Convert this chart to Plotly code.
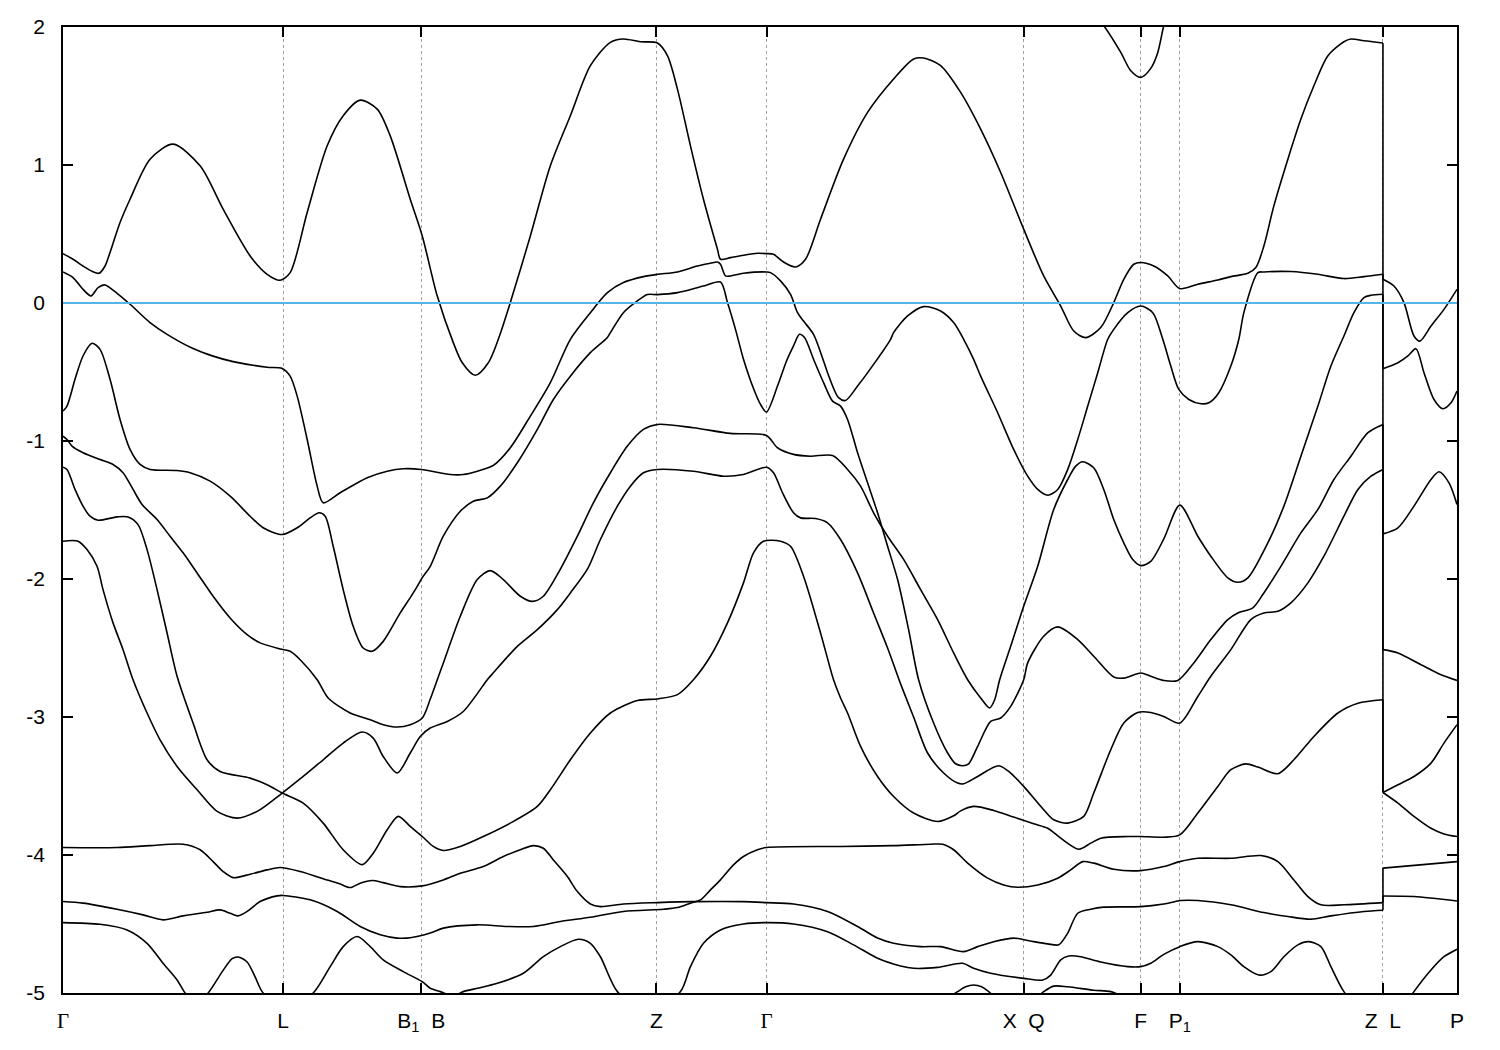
import plotly.graph_objects as go

# ---------------- k-path (distance along path) ----------------
KPOINT_POS = [0, 220, 358, 593, 703, 960, 1077, 1116, 1319, 1393]
KPOINT_LABELS = [
    '<span style="font-family:Liberation Serif">Γ</span>',
    "L",
    "B<sub>1</sub>\u00a0\u00a0B",
    "Z",
    '<span style="font-family:Liberation Serif">Γ</span>',
    "X\u00a0\u00a0Q",
    "F",
    "P<sub>1</sub>",
    "Z\u00a0\u00a0L",
    "P",
]
Y_TICKS = [-5, -4, -3, -2, -1, 0, 1, 2]
Y_TICK_LABELS = ["-5", "-4", "-3", "-2", "-1", "0", "1", "2"]
K_MAX = 1393
E_MIN, E_MAX = -5, 2
FERMI = 0.0

# ---------------- bands: (k, energy eV) ----------------
BAND_A = [(0,0.358),(10,0.317),(20,0.268),(29,0.23),(36,0.215),(42,0.268),(47,0.366),(57,0.583),
          (67,0.752),(87,1.042),(110,1.151),(137,0.994),(160,0.68),(187,0.341),(204,0.208),(217,0.165),
          (227,0.22),(244,0.656),(264,1.139),(280,1.357),(297,1.47),(314,1.405),(327,1.211),(347,0.752),
          (359,0.486),(374,0.05),(390,-0.287),(399,-0.433),(412,-0.524),(425,-0.433),(435,-0.263),
          (447,0.003),(467,0.486),(487,0.994),(507,1.357),(527,1.72),(547,1.889),(560,1.913),(577,1.893),
          (594,1.884),(604,1.792),(614,1.55),(627,1.139),(640,0.752),(654,0.39),(657,0.317),(667,0.329),
          (680,0.346),(694,0.36),(703,0.358),(710,0.353),(720,0.297),(732,0.261),(742,0.317),(757,0.607),
          (780,1.042),(804,1.381),(830,1.623),(850,1.768),(860,1.775),(877,1.72),(897,1.526),(917,1.26),
          (937,0.946),(960,0.535),(980,0.196),(997,-0.022),(1010,-0.203),(1022,-0.251),(1037,-0.178),
          (1050,0.003),(1060,0.172),(1070,0.281),(1077,0.293),(1090,0.268),(1104,0.196),(1116,0.104),
          (1134,0.136),(1154,0.167),(1167,0.191),(1184,0.215),(1192,0.257),(1200,0.413),(1210,0.704),
          (1224,1.042),(1237,1.333),(1250,1.574),(1264,1.792),(1280,1.893),(1287,1.913),(1300,1.9),
          (1319,1.884)]

BAND_B = [(0,0.225),(10,0.184),(20,0.099),(28,0.051),(35,0.112),(42,0.131),(54,0.07),(67,-0.009),
          (87,-0.142),(104,-0.227),(130,-0.33),(150,-0.385),(170,-0.425),(204,-0.465),(219,-0.474),
          (227,-0.53),(234,-0.675),(244,-0.989),(254,-1.327),(260,-1.448),(277,-1.375),(304,-1.266),
          (324,-1.219),(340,-1.201),(358,-1.206),(387,-1.243),(400,-1.243),(414,-1.219),(430,-1.177),
          (447,-1.049),(467,-0.82),(487,-0.577),(507,-0.263),(527,-0.07),(544,0.075),(560,0.148),
          (580,0.191),(594,0.208),(614,0.225),(634,0.268),(647,0.288),(654,0.297),(657,0.281),
          (662,0.196),(667,0.196),(680,0.215),(703,0.225),(707,0.22),(717,0.16),(727,0.063),(734,-0.07),
          (740,-0.131),(750,-0.227),(760,-0.42),(764,-0.505),(775,-0.686),(782,-0.706),(794,-0.602),
          (810,-0.445),(827,-0.263),(830,-0.215),(844,-0.094),(860,-0.026),(877,-0.058),(890,-0.142),
          (900,-0.263),(910,-0.408),(917,-0.53),(934,-0.795),(950,-1.061),(964,-1.255),(974,-1.351),
          (984,-1.393),(994,-1.351),(1004,-1.206),(1014,-0.989),(1024,-0.747),(1034,-0.505),
          (1044,-0.263),(1050,-0.191),(1064,-0.07),(1077,-0.022),(1089,-0.07),(1099,-0.263),
          (1107,-0.457),(1115,-0.626),(1125,-0.699),(1137,-0.73),(1145,-0.723),(1155,-0.65),
          (1167,-0.457),(1175,-0.263),(1180,-0.07),(1194,0.22),(1200,0.225),(1227,0.228),(1254,0.208),
          (1280,0.177),(1300,0.191),(1319,0.208)]

BAND_C = [(0,-0.783),(4,-0.747),(12,-0.553),(20,-0.384),(29,-0.292),(37,-0.336),(47,-0.553),
          (57,-0.844),(67,-1.061),(77,-1.17),(87,-1.206),(114,-1.214),(127,-1.23),(147,-1.291),
          (167,-1.4),(187,-1.545),(200,-1.629),(219,-1.678),(234,-1.629),(247,-1.557),(256,-1.52),
          (262,-1.545),(270,-1.763),(280,-2.077),(290,-2.343),(300,-2.5),(309,-2.524),(320,-2.452),
          (337,-2.246),(347,-2.135),(354,-2.053),(359,-1.99),(367,-1.908),(380,-1.69),(397,-1.509),
          (410,-1.436),(424,-1.412),(437,-1.327),(454,-1.158),(474,-0.916),(490,-0.699),(507,-0.53),
          (527,-0.36),(544,-0.25),(547,-0.215),(560,-0.07),(574,0.015),(584,0.061),(594,0.061),
          (614,0.075),(640,0.123),(657,0.152),(664,0.003),(672,-0.191),(680,-0.408),(690,-0.62),
          (697,-0.735),(703,-0.79),(714,-0.602),(723,-0.42),(730,-0.31),(736,-0.227),(741,-0.25),
          (750,-0.408),(760,-0.577),(769,-0.711),(777,-0.747),(784,-0.844),(794,-1.085),(804,-1.303),
          (814,-1.52),(824,-1.763),(834,-2.004),(845,-2.367),(855,-2.73),(870,-3.044),(884,-3.261),
          (892,-3.339),(899,-3.353),(905,-3.339),(914,-3.213),(927,-3.032),(937,-3.007),(947,-2.923),
          (960,-2.73),(964,-2.608),(980,-2.415),(994,-2.347),(1014,-2.439),(1030,-2.56),(1050,-2.71),
          (1060,-2.718),(1077,-2.681),(1087,-2.705),(1100,-2.735),(1114,-2.735),(1130,-2.608),
          (1147,-2.439),(1164,-2.294),(1174,-2.246),(1189,-2.209),(1200,-2.101),(1217,-1.908),
          (1237,-1.666),(1254,-1.496),(1270,-1.279),(1287,-1.11),(1304,-0.94),(1319,-0.88)]

BAND_D = [(0,-0.965),(4,-0.989),(9,-1.037),(20,-1.085),(37,-1.134),(50,-1.17),(60,-1.23),
          (70,-1.351),(79,-1.46),(94,-1.569),(107,-1.69),(120,-1.81),(134,-1.956),(150,-2.125),
          (167,-2.282),(184,-2.403),(197,-2.463),(217,-2.507),(227,-2.524),(237,-2.585),(254,-2.73),
          (265,-2.862),(287,-2.971),(307,-3.02),(320,-3.056),(334,-3.073),(347,-3.056),(359,-3.007),
          (367,-2.87),(374,-2.73),(380,-2.61),(397,-2.27),(414,-2.004),(427,-1.939),(440,-2.004),
          (457,-2.125),(469,-2.162),(480,-2.125),(497,-1.929),(514,-1.69),(530,-1.448),(547,-1.23),
          (564,-1.037),(580,-0.916),(594,-0.88),(630,-0.904),(667,-0.945),(703,-0.96),(714,-1.049),
          (730,-1.097),(747,-1.11),(769,-1.105),(784,-1.206),(797,-1.327),(810,-1.52),(824,-1.69),
          (840,-1.858),(857,-2.077),(874,-2.294),(890,-2.536),(904,-2.73),(917,-2.862),(926,-2.935),
          (931,-2.875),(936,-2.73),(947,-2.488),(960,-2.198),(974,-1.908),(990,-1.496),(1004,-1.279),
          (1012,-1.182),(1019,-1.15),(1030,-1.194),(1040,-1.351),(1050,-1.569),(1060,-1.738),
          (1069,-1.859),(1077,-1.903),(1087,-1.872),(1100,-1.71),(1116,-1.465),(1134,-1.69),
          (1147,-1.835),(1164,-1.992),(1174,-2.024),(1184,-1.992),(1204,-1.738),(1220,-1.472),
          (1237,-1.11),(1254,-0.747),(1267,-0.457),(1280,-0.239),(1290,-0.07),(1300,0.039),
          (1307,0.056),(1319,0.063)]

BAND_E = [(0,-1.19),(4,-1.206),(12,-1.351),(20,-1.472),(27,-1.545),(35,-1.574),(54,-1.55),
          (65,-1.55),(75,-1.606),(84,-1.787),(94,-2.077),(104,-2.391),(114,-2.705),(130,-3.044),
          (144,-3.31),(157,-3.395),(187,-3.443),(204,-3.491),(219,-3.551),(240,-3.624),(260,-3.769),
          (280,-3.962),(299,-4.07),(310,-3.987),(324,-3.817),(335,-3.72),(347,-3.793),(359,-3.866),
          (370,-3.938),(380,-3.967),(397,-3.938),(420,-3.866),(447,-3.769),(474,-3.648),(487,-3.527),
          (507,-3.31),(527,-3.116),(547,-2.971),(574,-2.88),(594,-2.869),(614,-2.838),(630,-2.73),
          (647,-2.56),(664,-2.318),(680,-2.028),(690,-1.81),(700,-1.726),(717,-1.726),(727,-1.763),
          (740,-1.98),(757,-2.391),(770,-2.73),(777,-2.862),(784,-2.971),(797,-3.213),(814,-3.431),
          (830,-3.576),(850,-3.696),(874,-3.757),(890,-3.716),(897,-3.68),(910,-3.648),(930,-3.677),
          (950,-3.725),(970,-3.774),(984,-3.806),(997,-3.878),(1015,-3.958),(1027,-3.914),
          (1037,-3.878),(1064,-3.866),(1077,-3.866),(1100,-3.871),(1116,-3.854),(1134,-3.696),
          (1154,-3.503),(1167,-3.382),(1182,-3.34),(1194,-3.363),(1214,-3.411),(1230,-3.31),
          (1250,-3.141),(1274,-2.971),(1294,-2.9),(1319,-2.875)]

BAND_F = [(0,-1.726),(15,-1.726),(24,-1.787),(34,-1.908),(40,-2.077),(50,-2.318),(60,-2.512),
          (70,-2.73),(84,-2.971),(97,-3.165),(114,-3.358),(134,-3.527),(154,-3.684),(174,-3.733),
          (194,-3.684),(219,-3.551),(240,-3.431),(260,-3.31),(280,-3.189),(299,-3.109),(310,-3.153),
          (320,-3.286),(334,-3.406),(347,-3.261),(357,-3.141),(367,-3.08),(384,-3.032),(400,-2.96),
          (424,-2.73),(430,-2.68),(454,-2.488),(474,-2.367),(494,-2.222),(507,-2.101),(524,-1.929),
          (537,-1.714),(554,-1.472),(567,-1.327),(580,-1.23),(594,-1.206),(630,-1.219),(660,-1.255),
          (680,-1.243),(703,-1.19),(710,-1.23),(719,-1.375),(730,-1.52),(737,-1.557),(752,-1.562),
          (764,-1.593),(777,-1.714),(794,-1.956),(810,-2.246),(824,-2.50),(837,-2.76),(850,-3.0),
          (864,-3.261),(880,-3.406),(894,-3.479),(900,-3.484),(914,-3.431),(935,-3.353),
          (947,-3.406),(960,-3.503),(980,-3.672),(990,-3.745),(1004,-3.769),(1020,-3.72),(1030,-3.551),
          (1047,-3.237),(1060,-3.044),(1074,-2.967),(1087,-2.967),(1100,-2.996),(1116,-3.044),
          (1134,-2.851),(1147,-2.705),(1167,-2.512),(1187,-2.294),(1200,-2.246),(1214,-2.234),
          (1227,-2.173),(1244,-2.028),(1260,-1.835),(1280,-1.545),(1294,-1.351),(1307,-1.255),
          (1319,-1.206)]

BAND_G = [(0,-3.946),(54,-3.946),(87,-3.932),(120,-3.922),(137,-3.962),(150,-4.048),(160,-4.12),
          (170,-4.164),(187,-4.139),(204,-4.108),(217,-4.091),(237,-4.12),(264,-4.181),(277,-4.21),
          (287,-4.236),(297,-4.204),(309,-4.185),(320,-4.2),(337,-4.229),(359,-4.224),(380,-4.181),
          (397,-4.132),(420,-4.084),(440,-4.011),(457,-3.962),(470,-3.932),(480,-3.951),(490,-4.036),
          (504,-4.156),(514,-4.265),(527,-4.355),(537,-4.374),(560,-4.355),(594,-4.345),(630,-4.338),
          (680,-4.338),(703,-4.345),(730,-4.355),(764,-4.409),(794,-4.518),(814,-4.602),(830,-4.64),
          (857,-4.664),(877,-4.664),(900,-4.7),(914,-4.664),(930,-4.628),(950,-4.602),(970,-4.628),
          (984,-4.644),(995,-4.651),(1004,-4.566),(1014,-4.422),(1027,-4.393),(1040,-4.378),
          (1077,-4.374),(1100,-4.355),(1117,-4.33),(1134,-4.33),(1167,-4.361),(1200,-4.417),
          (1224,-4.446),(1247,-4.465),(1267,-4.441),(1300,-4.409),(1319,-4.4)]

BAND_H = [(0,-4.337),(20,-4.349),(54,-4.393),(80,-4.434),(100,-4.47),(120,-4.441),(144,-4.415),
          (157,-4.398),(167,-4.422),(175,-4.441),(184,-4.409),(197,-4.337),(214,-4.296),(220,-4.293),
          (247,-4.325),(274,-4.409),(297,-4.518),(317,-4.578),(334,-4.602),(347,-4.6),(367,-4.566),
          (380,-4.53),(414,-4.506),(444,-4.518),(470,-4.518),(497,-4.482),(527,-4.451),(560,-4.409),
          (600,-4.393),(614,-4.381),(627,-4.349),(637,-4.325),(647,-4.253),(657,-4.18),(670,-4.072),
          (680,-4.011),(694,-3.962),(703,-3.946),(777,-3.938),(830,-3.932),(867,-3.922),(879,-3.922),
          (890,-3.962),(904,-4.059),(924,-4.168),(940,-4.217),(954,-4.234),(974,-4.217),(994,-4.168),
          (1007,-4.108),(1019,-4.048),(1030,-4.059),(1050,-4.103),(1077,-4.113),(1100,-4.084),
          (1116,-4.048),(1134,-4.024),(1167,-4.024),(1197,-4.004),(1214,-4.048),(1230,-4.181),
          (1244,-4.301),(1257,-4.361),(1280,-4.361),(1319,-4.345)]

BAND_I = [(0,-4.49),(37,-4.502),(64,-4.543),(84,-4.64),(100,-4.785),(114,-4.906),(122,-5.0),
          (133,-5.08),(145,-5.0),(160,-4.836),(169,-4.751),(175,-4.739),(184,-4.775),(192,-4.884),
          (200,-5.0),(225,-5.12),(250,-5.0),(267,-4.809),(280,-4.664),(294,-4.591),(307,-4.664),
          (320,-4.76),(340,-4.845),(359,-4.918),(367,-4.966),(377,-4.99),(390,-5.02),(400,-4.99),
          (414,-4.966),(434,-4.93),(460,-4.857),(480,-4.737),(497,-4.664),(515,-4.611),(527,-4.64),
          (537,-4.737),(554,-4.99),(585,-5.15),(617,-4.99),(627,-4.809),(640,-4.64),(657,-4.543),
          (680,-4.5),(703,-4.49),(730,-4.5),(764,-4.556),(790,-4.651),(814,-4.748),(837,-4.804),
          (850,-4.821),(874,-4.814),(899,-4.785),(910,-4.821),(927,-4.857),(960,-4.894),(979,-4.906),
          (987,-4.87),(997,-4.76),(1005,-4.732),(1017,-4.737),(1037,-4.775),(1064,-4.809),
          (1077,-4.809),(1087,-4.785),(1100,-4.72),(1116,-4.664),(1134,-4.628),(1154,-4.664),
          (1167,-4.724),(1180,-4.809),(1195,-4.87),(1207,-4.845),(1220,-4.737),(1234,-4.651),
          (1245,-4.628),(1257,-4.664),(1267,-4.809),(1280,-4.99),(1300,-5.15),(1319,-5.2)]

BAND_M = [(880,-5.06),(894,-4.99),(902,-4.955),(910,-4.942),(918,-4.955),(925,-4.99),(940,-5.08),
          (965,-5.08),(980,-4.99),(990,-4.95),(1004,-4.955),(1030,-4.98),(1047,-4.99),(1060,-5.03)]

BAND_N = [(1030,2.1),(1040,2.01),(1057,1.816),(1067,1.683),(1077,1.635),(1087,1.7),(1094,1.816),
          (1100,2.01),(1104,2.1)]

# segment L -> P (after the Z|L discontinuity)
BAND_R1 = [(1319,0.172),(1330,0.123),(1340,0.003),(1350,-0.239),(1356,-0.276),(1367,-0.167),
           (1380,-0.046),(1393,0.099)]
BAND_R2 = [(1319,-0.476),(1334,-0.433),(1344,-0.384),(1352,-0.331),(1360,-0.505),(1370,-0.699),
           (1379,-0.766),(1387,-0.723),(1393,-0.638)]
BAND_R3 = [(1319,-1.673),(1334,-1.629),(1350,-1.472),(1367,-1.279),(1375,-1.223),(1385,-1.303),
           (1393,-1.46)]
BAND_R4 = [(1319,-2.512),(1334,-2.536),(1357,-2.621),(1377,-2.694),(1393,-2.735)]
BAND_R5 = [(1319,-3.547),(1334,-3.491),(1350,-3.431),(1367,-3.334),(1380,-3.189),(1393,-3.056)]
BAND_R6 = [(1319,-3.547),(1334,-3.624),(1350,-3.72),(1367,-3.806),(1380,-3.847),(1393,-3.866)]
BAND_R7 = [(1319,-4.095),(1393,-4.048)]
BAND_R8 = [(1319,-4.297),(1350,-4.301),(1393,-4.333)]
BAND_R9 = [(1340,-5.1),(1350,-4.99),(1367,-4.833),(1380,-4.737),(1393,-4.683)]

# band energies on both sides of the Z|L jump
ZL_K = 1319
ZL_Z_SIDE = [1.884, 0.208, 0.063, -0.88, -1.206, -2.875, -4.345, -4.4]
ZL_L_SIDE = [0.172, -0.476, -1.673, -2.512, -3.547, -3.547, -4.095, -4.297]

BANDS = [BAND_A, BAND_B, BAND_C, BAND_D, BAND_E, BAND_F, BAND_G, BAND_H, BAND_I,
         BAND_M, BAND_N, BAND_R1, BAND_R2, BAND_R3, BAND_R4, BAND_R5, BAND_R6,
         BAND_R7, BAND_R8, BAND_R9]

fig = go.Figure()

for band in BANDS:
    ks = [p[0] for p in band]
    es = [p[1] for p in band]
    fig.add_trace(go.Scatter(
        x=ks, y=es, mode="lines",
        line=dict(color="black", width=1.6, shape="spline", smoothing=0.8),
        showlegend=False, hoverinfo="skip"))

jx, jy = [], []
for ez, el in zip(ZL_Z_SIDE, ZL_L_SIDE):
    jx += [ZL_K, ZL_K, None]
    jy += [ez, el, None]
fig.add_trace(go.Scatter(x=jx, y=jy, mode="lines",
                         line=dict(color="black", width=1.6),
                         showlegend=False, hoverinfo="skip"))

fig.add_trace(go.Scatter(x=[0, K_MAX], y=[FERMI, FERMI], mode="lines",
                         line=dict(color="#56b4e9", width=2),
                         showlegend=False, hoverinfo="skip"))

FONT = dict(family="Liberation Sans, Arial, sans-serif", size=21, color="black")

fig.update_layout(
    width=1500, height=1050,
    margin=dict(l=63, r=43, t=27, b=57),
    paper_bgcolor="white", plot_bgcolor="white",
    font=FONT,
    showlegend=False,
)
fig.update_xaxes(
    range=[0, K_MAX],
    tickmode="array", tickvals=KPOINT_POS, ticktext=KPOINT_LABELS,
    ticks="inside", ticklen=10, tickwidth=1.5, tickcolor="black",
    showline=True, linecolor="black", linewidth=1.5, mirror="allticks",
    showgrid=True, gridcolor="#a0a0a0", gridwidth=1, griddash="3px,3px",
    zeroline=False, ticklabelstandoff=8, layer="below traces",
)
fig.update_yaxes(
    range=[E_MIN, E_MAX],
    tickmode="array", tickvals=Y_TICKS, ticktext=Y_TICK_LABELS,
    ticks="inside", ticklen=10, tickwidth=1.5, tickcolor="black",
    showline=True, linecolor="black", linewidth=1.5, mirror="allticks",
    showgrid=False, zeroline=False, ticklabelstandoff=12, layer="below traces",
)

fig.write_html("out.html", config={"displayModeBar": False},
               post_script="document.body.style.margin='0px';")
